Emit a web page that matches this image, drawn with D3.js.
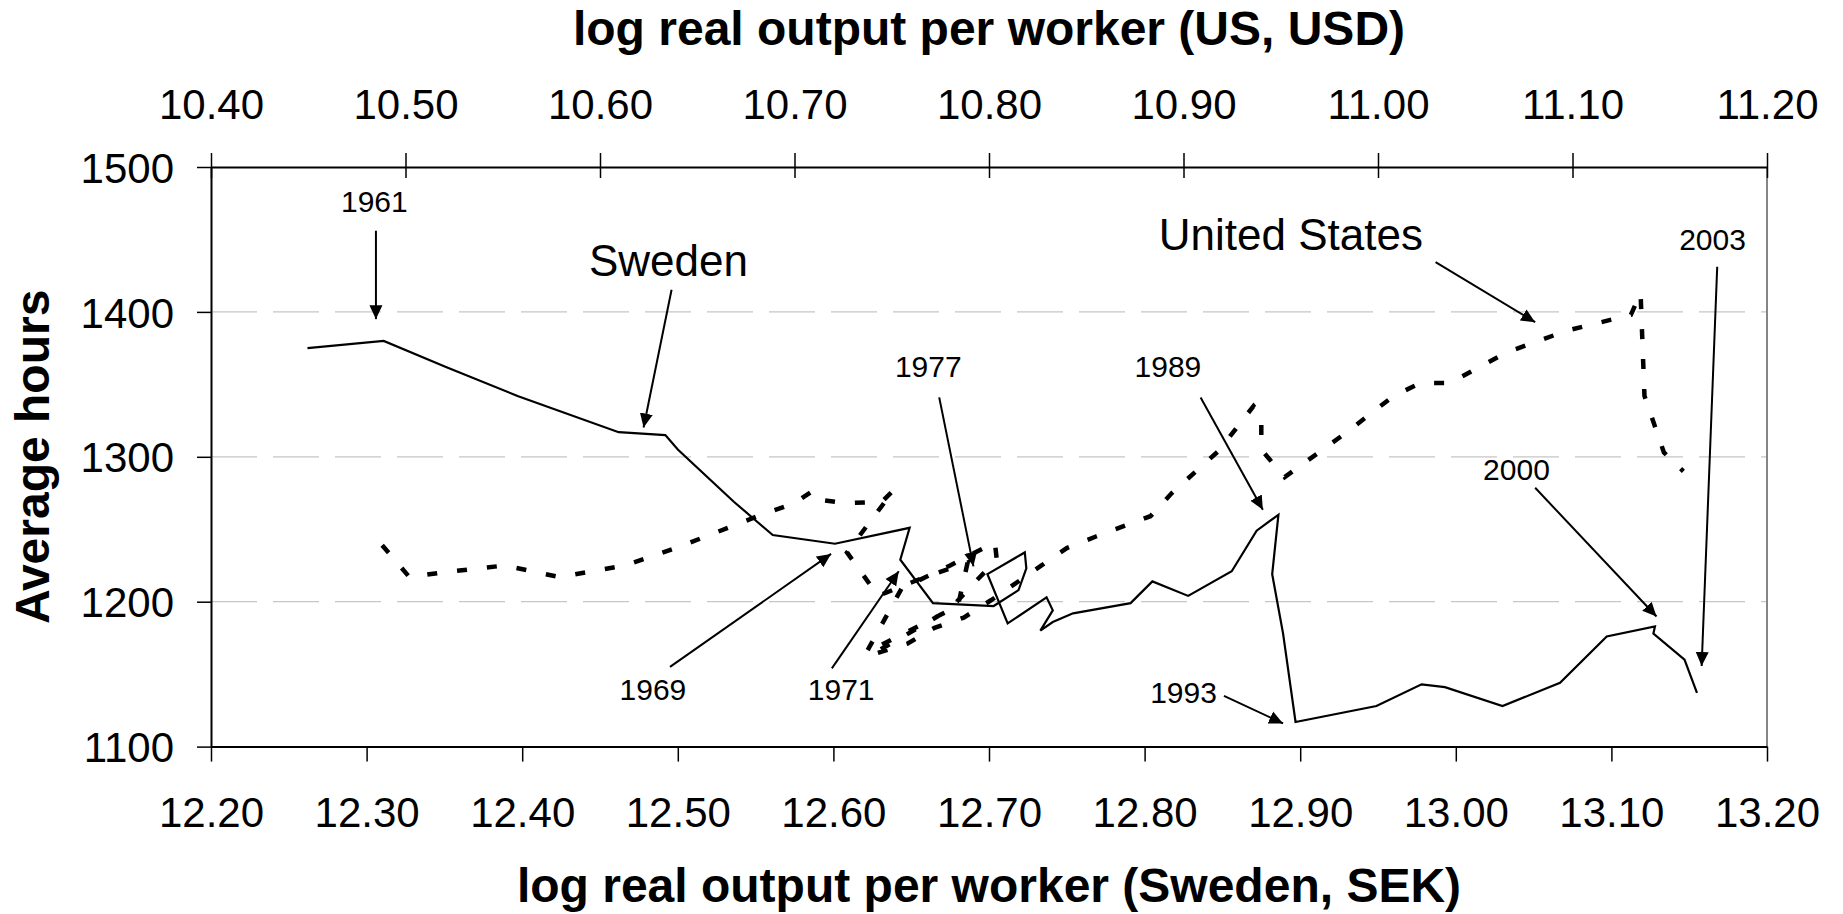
<!DOCTYPE html>
<html>
<head>
<meta charset="utf-8">
<script src="https://cdn.jsdelivr.net/npm/d3@7"></script>
<style>
  body { margin: 0; background: #fff; }
  text { font-family: "Liberation Sans", Arial, sans-serif; fill: #000; }
</style>
</head>
<body>
<script>
// Sweden: log real output per worker (SEK) against average hours
const swedenOutput = [12.262, 12.311, 12.351, 12.397, 12.462, 12.492, 12.500, 12.536, 12.561, 12.601,
  12.649, 12.643, 12.664, 12.703, 12.719, 12.724, 12.723, 12.699, 12.712, 12.737,
  12.741, 12.733, 12.741, 12.754, 12.791, 12.805, 12.828, 12.856, 12.872, 12.886,
  12.882, 12.889, 12.897, 12.949, 12.978, 12.993, 13.030, 13.067, 13.097, 13.128,
  13.127, 13.147, 13.155];
const swedenHours = [1375, 1380, 1362, 1342, 1317, 1315, 1305, 1269, 1246, 1240,
  1251, 1229, 1199, 1197, 1208, 1223, 1234, 1219, 1185, 1203,
  1194, 1180, 1186, 1192, 1199, 1214, 1204, 1221, 1249, 1260,
  1219, 1178, 1117, 1128, 1143, 1141, 1128, 1144, 1176, 1183,
  1178, 1160, 1137];

// United States: log real output per worker (USD) against average hours
const usOutput = [10.488, 10.502, 10.518, 10.551, 10.579, 10.613, 10.639, 10.683, 10.700, 10.710,
  10.715, 10.726, 10.745, 10.751, 10.727, 10.743, 10.767, 10.789, 10.784, 10.737,
  10.755, 10.780, 10.803, 10.804, 10.791, 10.780, 10.765, 10.739, 10.758, 10.772,
  10.787, 10.801, 10.827, 10.840, 10.855, 10.883, 10.894, 10.918, 10.936, 10.940,
  10.940, 10.952, 10.983, 11.008, 11.022, 11.037, 11.066, 11.097, 11.130, 11.135,
  11.137, 11.147, 11.157];
const usHours = [1239, 1217, 1220, 1225, 1217, 1225, 1237, 1260, 1268, 1277,
  1270, 1268, 1269, 1277, 1234, 1204, 1217, 1227, 1197, 1165,
  1209, 1225, 1241, 1229, 1211, 1195, 1183, 1163, 1171, 1182,
  1189, 1201, 1225, 1237, 1245, 1259, 1275, 1304, 1335, 1328,
  1305, 1286, 1316, 1342, 1351, 1351, 1372, 1387, 1398, 1413,
  1342, 1303, 1290];

// ticks
const hourTicks = [1100, 1200, 1300, 1400, 1500];
const hourGrid = [1200, 1300, 1400];
const sekTicks = [12.2, 12.3, 12.4, 12.5, 12.6, 12.7, 12.8, 12.9, 13.0, 13.1, 13.2];
const usdTicks = [10.4, 10.5, 10.6, 10.7, 10.8, 10.9, 11.0, 11.1, 11.2];

// labels with arrows, in Sweden-axis units (SEK, hours)
const yearNotes = [
  {label: "1961", at: [12.305, 1469], from: [12.306, 1456], to: [12.306, 1395]},
  {label: "1969", at: [12.484, 1132.5], from: [12.495, 1155], to: [12.5985, 1233]},
  {label: "1971", at: [12.605, 1132.5], from: [12.599, 1154], to: [12.642, 1221]},
  {label: "1977", at: [12.661, 1355], from: [12.668, 1341], to: [12.690, 1224.4]},
  {label: "1989", at: [12.815, 1355], from: [12.836, 1341], to: [12.876, 1263.4]},
  {label: "1993", at: [12.825, 1130], from: [12.851, 1135], to: [12.889, 1116]},
  {label: "2000", at: [13.039, 1284], from: [13.051, 1278.6], to: [13.129, 1189.8]},
  {label: "2003", at: [13.165, 1442.4], from: [13.168, 1431.2], to: [13.158, 1155.6]}
];
const countryNotes = [
  {label: "Sweden", at: [12.494, 1425], from: [12.496, 1415.3], to: [12.478, 1320.2]},
  {label: "United States", at: [12.894, 1443], from: [12.987, 1434.4], to: [13.051, 1392.9]}
];

let svgContainer = "";
let xSek, xUsd, yHours;

window.onload = function() {
  svgContainer = d3.select('body').append('svg')
    .attr('width', 1843)
    .attr('height', 914);

  xSek = d3.scaleLinear().domain([12.2, 13.2]).range([211, 1767]);
  xUsd = d3.scaleLinear().domain([10.4, 11.2]).range([211, 1767]);
  yHours = d3.scaleLinear().domain([1100, 1500]).range([746.6, 167]);

  drawGrid();
  drawAxes();
  plotLines();
  drawNotes();
  drawTitles();
}

// dashed horizontal gridlines
function drawGrid() {
  svgContainer.selectAll('.grid')
    .data(hourGrid)
    .enter()
    .append('line')
      .attr('class', 'grid')
      .attr('x1', xSek(12.2))
      .attr('x2', xSek(13.2))
      .attr('y1', (d) => yHours(d))
      .attr('y2', (d) => yHours(d))
      .attr('stroke', '#c6c6c6')
      .attr('stroke-width', 1.3)
      .style('stroke-dasharray', '46, 16');

  // right border of the plot area
  svgContainer.append('line')
    .attr('x1', xSek(13.2)).attr('x2', xSek(13.2))
    .attr('y1', yHours(1500)).attr('y2', yHours(1100))
    .attr('stroke', '#858585')
    .attr('stroke-width', 2);
}

function styleAxis(g) {
  g.attr('font-family', null).attr('font-size', null);
  g.select('.domain').attr('stroke', '#000').attr('stroke-width', 2);
  g.selectAll('.tick line').attr('stroke', '#000').attr('stroke-width', 1.5);
  g.selectAll('.tick text').style('font-size', '42px');
}

function drawAxes() {
  let fmt = d3.format('.2f');

  let topAxis = d3.axisTop(xUsd)
    .tickValues(usdTicks)
    .tickFormat(fmt)
    .tickSizeInner(14)
    .tickSizeOuter(0);
  let top = svgContainer.append('g')
    .attr('transform', 'translate(0,' + yHours(1500) + ')')
    .call(topAxis);
  styleAxis(top);
  top.selectAll('.tick line').attr('y1', 11);
  top.selectAll('.tick text').attr('y', -48).attr('dy', 0);

  let bottomAxis = d3.axisBottom(xSek)
    .tickValues(sekTicks)
    .tickFormat(fmt)
    .tickSizeInner(15)
    .tickSizeOuter(0);
  let bottom = svgContainer.append('g')
    .attr('transform', 'translate(0,' + yHours(1100) + ')')
    .call(bottomAxis);
  styleAxis(bottom);
  bottom.selectAll('.tick text').attr('y', 80).attr('dy', 0);

  let leftAxis = d3.axisLeft(yHours)
    .tickValues(hourTicks)
    .tickFormat(d3.format('d'))
    .tickSizeInner(14)
    .tickSizeOuter(0);
  let left = svgContainer.append('g')
    .attr('transform', 'translate(' + xSek(12.2) + ',0)')
    .call(leftAxis);
  styleAxis(left);
  left.selectAll('.tick text').attr('x', -37).attr('dy', '0.36em');
}

// Sweden solid on the bottom axis, US dashed on the top axis
function plotLines() {
  let swedenLine = d3.line()
    .x((d) => xSek(d[0]))
    .y((d) => yHours(d[1]));

  svgContainer.append('path')
    .datum(d3.zip(swedenOutput, swedenHours))
    .attr('d', swedenLine)
    .attr('fill', 'none')
    .attr('stroke', '#000')
    .attr('stroke-width', 2.2)
    .attr('stroke-linejoin', 'miter');

  let usLine = d3.line()
    .x((d) => xUsd(d[0]))
    .y((d) => yHours(d[1]));

  svgContainer.append('path')
    .datum(d3.zip(usOutput, usHours))
    .attr('d', usLine)
    .attr('fill', 'none')
    .attr('stroke', '#000')
    .attr('stroke-width', 4.5)
    .style('stroke-dasharray', '10, 20');
}

function drawNotes() {
  svgContainer.append('defs').append('marker')
    .attr('id', 'head')
    .attr('viewBox', '0 -7 14 14')
    .attr('refX', 14)
    .attr('refY', 0)
    .attr('markerWidth', 14)
    .attr('markerHeight', 14)
    .attr('markerUnits', 'userSpaceOnUse')
    .attr('orient', 'auto')
    .append('path')
      .attr('d', 'M0,-6.5L14,0L0,6.5Z')
      .attr('fill', '#000');

  let notes = yearNotes.map((d) => Object.assign({size: 30}, d))
    .concat(countryNotes.map((d) => Object.assign({size: 44}, d)));

  svgContainer.selectAll('.arrow')
    .data(notes)
    .enter()
    .append('line')
      .attr('class', 'arrow')
      .attr('x1', (d) => xSek(d.from[0]))
      .attr('y1', (d) => yHours(d.from[1]))
      .attr('x2', (d) => xSek(d.to[0]))
      .attr('y2', (d) => yHours(d.to[1]))
      .attr('stroke', '#000')
      .attr('stroke-width', 2)
      .attr('marker-end', 'url(#head)');

  svgContainer.selectAll('.note')
    .data(notes)
    .enter()
    .append('text')
      .attr('class', 'note')
      .attr('x', (d) => xSek(d.at[0]))
      .attr('y', (d) => yHours(d.at[1]))
      .attr('text-anchor', 'middle')
      .style('font-size', (d) => d.size + 'px')
      .text((d) => d.label);
}

function drawTitles() {
  let midX = (xSek(12.2) + xSek(13.2)) / 2;
  let midY = (yHours(1100) + yHours(1500)) / 2;

  svgContainer.append('text')
    .attr('x', midX)
    .attr('y', 45)
    .attr('text-anchor', 'middle')
    .style('font-size', '48px')
    .style('font-weight', 'bold')
    .text('log real output per worker (US, USD)');

  svgContainer.append('text')
    .attr('x', midX)
    .attr('y', 902)
    .attr('text-anchor', 'middle')
    .style('font-size', '48px')
    .style('font-weight', 'bold')
    .text('log real output per worker (Sweden, SEK)');

  svgContainer.append('text')
    .attr('transform', 'translate(49,' + midY + ')rotate(-90)')
    .attr('text-anchor', 'middle')
    .style('font-size', '48px')
    .style('font-weight', 'bold')
    .text('Average hours');
}
</script>
</body>
</html>
